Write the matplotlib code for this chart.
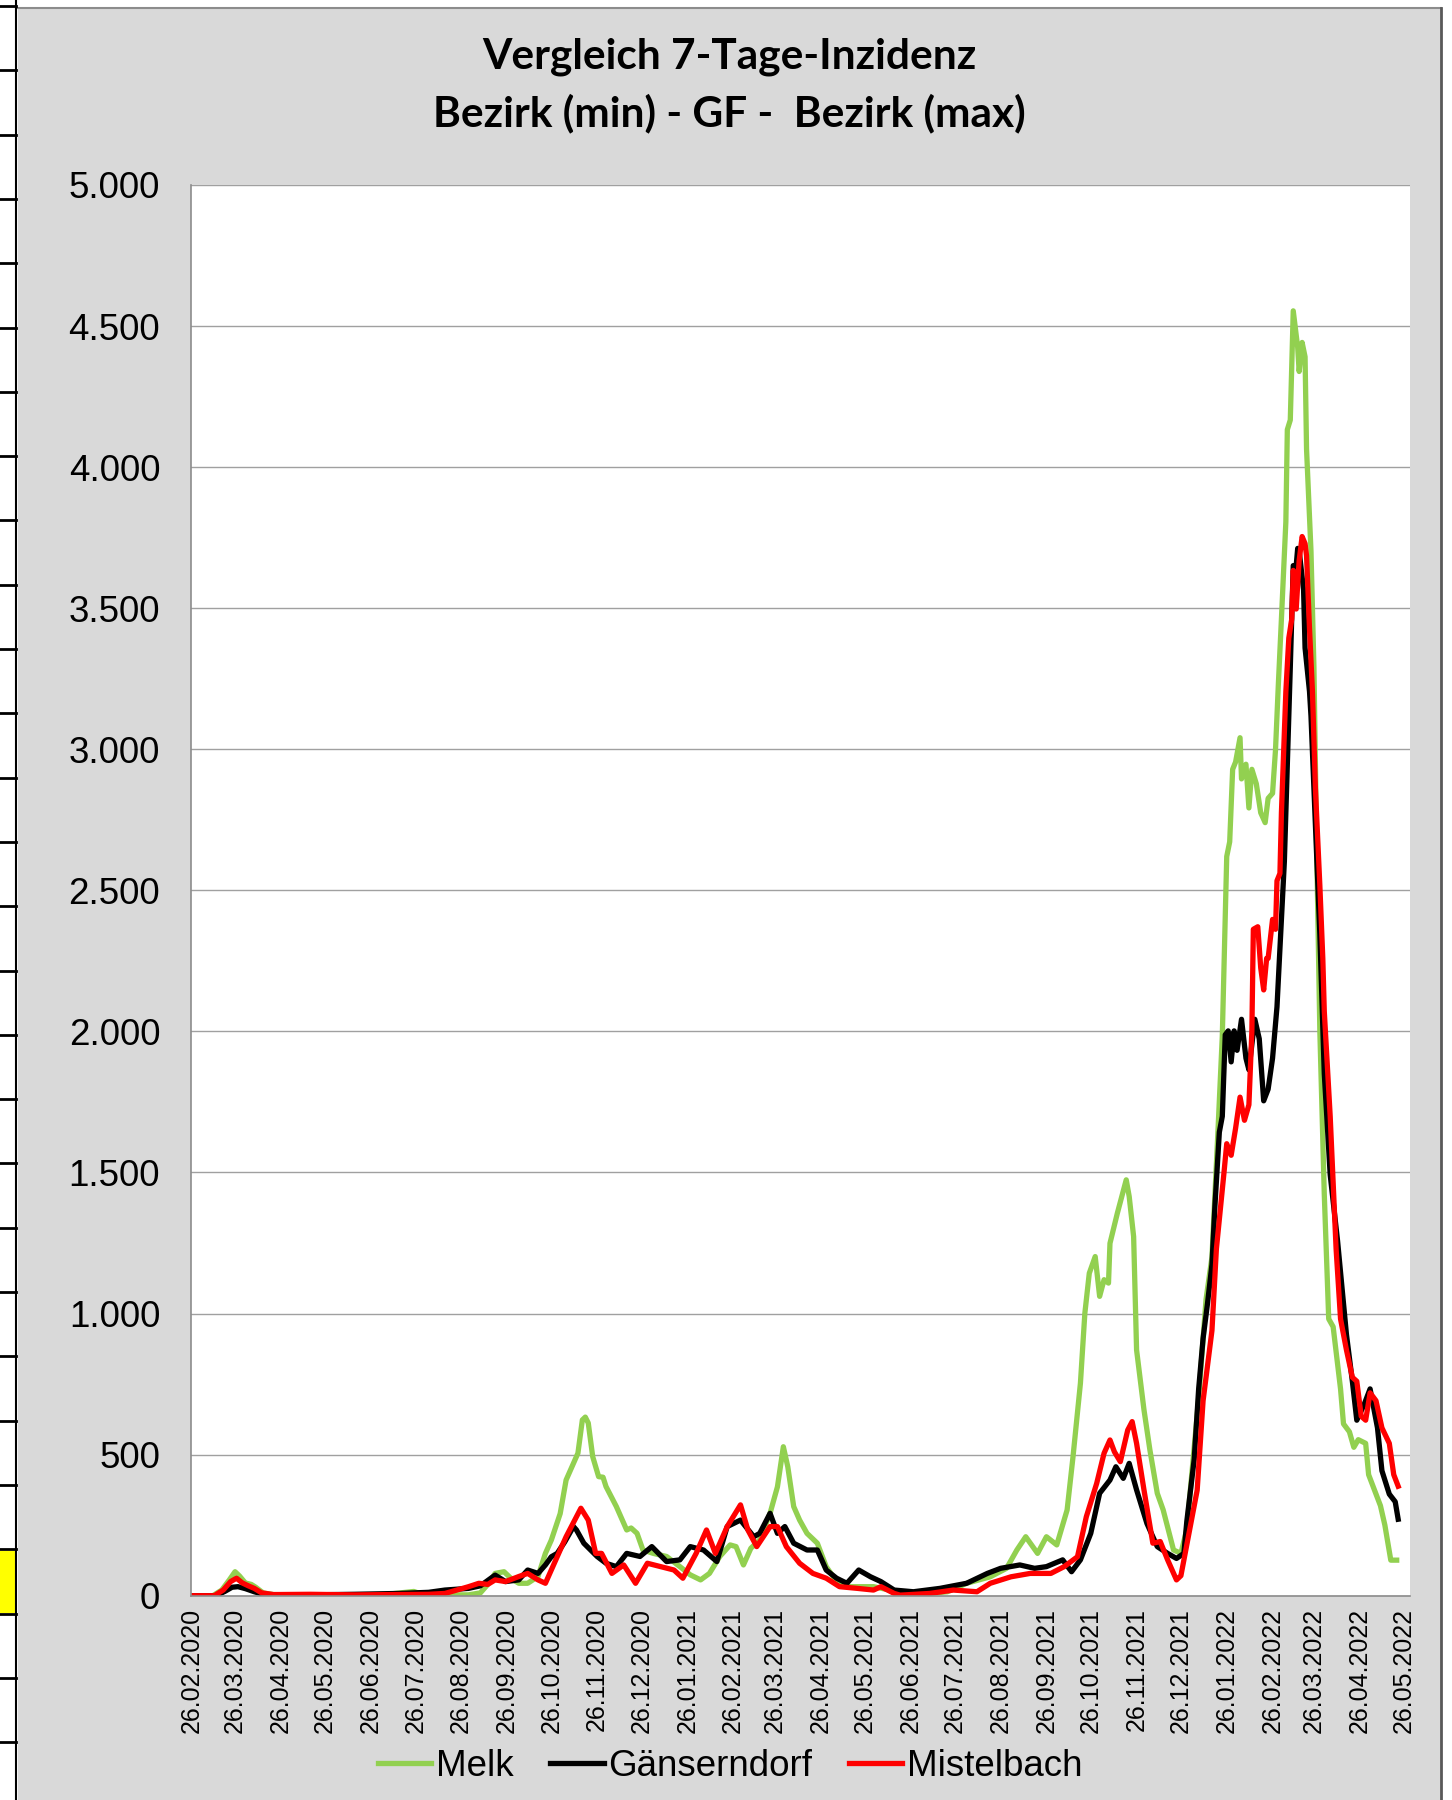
import matplotlib
matplotlib.use("Agg")
import matplotlib.pyplot as plt
from matplotlib.patches import Rectangle
from matplotlib.lines import Line2D
from matplotlib.ticker import FuncFormatter, MultipleLocator
import numpy as np

# 7-Tage-Inzidenz, (Tage seit 26.02.2020, Wert)
melk = [(0, 0), (14, 0), (20, 20), (25, 55), (29, 85), (32, 70), (36, 45), (40, 40), (43, 30), (48, 10),
        (55, 4), (70, 3), (90, 2), (110, 3), (130, 4), (150, 15), (155, 6), (170, 3), (187, 3), (195, 10),
        (200, 40), (205, 79), (211, 85), (216, 60), (221, 44), (227, 44), (234, 68), (239, 150), (243, 197),
        (247, 260), (249, 291), (253, 410), (258, 469), (261, 505), (264, 623), (266, 633), (268, 612),
        (271, 493), (275, 422), (278, 420), (280, 387), (287, 316), (294, 233), (297, 240), (301, 221),
        (305, 162), (312, 150), (321, 139), (330, 103), (337, 74), (344, 56), (350, 79), (357, 139),
        (364, 180), (368, 174), (373, 109), (378, 168), (384, 198), (391, 292), (396, 386), (400, 528),
        (403, 457), (407, 316), (411, 268), (416, 221), (423, 186), (429, 103), (436, 50), (445, 32),
        (461, 32), (472, 20), (484, 8), (499, 8), (511, 14), (524, 44), (540, 67), (551, 97), (558, 162),
        (564, 209), (572, 150), (578, 209), (585, 180), (592, 304), (596, 493), (601, 753), (604, 1001),
        (607, 1143), (611, 1202), (614, 1061), (617, 1120), (620, 1108), (621, 1249), (626, 1356),
        (629, 1415), (632, 1474), (634, 1415), (637, 1273), (639, 871), (644, 659), (648, 517), (653, 363),
        (657, 304), (664, 162), (669, 150), (673, 236), (681, 700), (686, 1050), (690, 1200), (694, 1640),
        (697, 1984), (700, 2620), (702, 2672), (704, 2929), (706, 2955), (709, 3041), (710, 2895),
        (713, 2947), (715, 2792), (717, 2929), (720, 2878), (723, 2775), (726, 2740), (728, 2826),
        (731, 2844), (733, 2998), (735, 3239), (737, 3462), (740, 3806), (741, 4133), (743, 4167),
        (745, 4554), (748, 4425), (749, 4339), (751, 4442), (753, 4391), (754, 4064), (757, 3703),
        (759, 3290), (761, 2603), (763, 2001), (766, 1423), (769, 981), (772, 953), (777, 733), (779, 609),
        (783, 581), (786, 526), (789, 553), (794, 540), (796, 429), (800, 374), (804, 319), (807, 250),
        (811, 126), (815, 126)]

gaenserndorf = [(0, 0), (16, 0), (22, 15), (27, 30), (31, 32), (36, 25), (42, 14), (48, 5), (55, 3), (80, 3),
                (110, 5), (140, 8), (160, 12), (171, 20), (187, 26), (195, 35), (205, 73), (212, 50), (221, 56),
                (227, 91), (234, 79), (239, 109), (243, 138), (247, 150), (252, 190), (258, 245), (260, 233),
                (265, 186), (274, 139), (280, 115), (287, 103), (294, 150), (303, 139), (311, 174), (321, 121),
                (330, 127), (337, 174), (346, 162), (355, 121), (362, 245), (371, 268), (380, 209), (384, 221),
                (391, 292), (396, 221), (401, 245), (407, 186), (416, 162), (423, 162), (429, 91), (436, 62),
                (443, 44), (451, 91), (459, 67), (466, 50), (475, 20), (488, 14), (506, 26), (524, 44),
                (538, 79), (547, 97), (560, 109), (570, 97), (578, 103), (589, 127), (595, 85), (601, 127),
                (608, 221), (614, 363), (621, 410), (625, 457), (630, 416), (634, 469), (639, 375), (646, 256),
                (653, 174), (660, 150), (666, 132), (671, 150), (673, 264), (678, 484), (681, 733), (684, 912),
                (687, 1036), (690, 1174), (692, 1381), (695, 1643), (697, 1699), (699, 1988), (701, 2002),
                (703, 1892), (705, 2002), (707, 1933), (710, 2043), (713, 1905), (715, 1864), (719, 2043),
                (722, 1974), (725, 1754), (728, 1795), (731, 1905), (734, 2087), (736, 2293), (739, 2603),
                (741, 2947), (743, 3290), (745, 3651), (747, 3651), (748, 3712), (749, 3703), (752, 3565),
                (753, 3359), (756, 3205), (757, 3118), (759, 2861), (761, 2603), (763, 2345), (766, 1850),
                (770, 1492), (775, 1257), (777, 1147), (781, 926), (785, 760), (788, 622), (793, 678),
                (797, 733), (802, 595), (805, 443), (810, 360), (814, 333), (816, 271)]

mistelbach = [(0, 0), (15, 0), (21, 20), (26, 50), (30, 62), (34, 45), (38, 35), (42, 26), (47, 10), (55, 4),
              (80, 5), (110, 3), (140, 4), (160, 5), (171, 8), (187, 32), (194, 44), (200, 40), (205, 56),
              (212, 50), (221, 68), (227, 79), (234, 56), (239, 44), (244, 103), (248, 150), (253, 209),
              (260, 280), (263, 310), (268, 268), (273, 150), (277, 150), (284, 79), (292, 109), (300, 44),
              (308, 115), (317, 103), (326, 91), (332, 62), (341, 150), (348, 233), (354, 150), (362, 245),
              (371, 322), (376, 233), (382, 174), (391, 245), (396, 245), (402, 174), (411, 115), (420, 79),
              (429, 62), (438, 32), (450, 26), (461, 20), (466, 32), (475, 8), (479, 2), (499, 8), (515, 20),
              (531, 14), (540, 44), (554, 67), (567, 79), (581, 79), (590, 103), (599, 138), (605, 280),
              (612, 398), (617, 505), (621, 552), (624, 510), (628, 475), (633, 587), (636, 617), (639, 540),
              (644, 375), (650, 186), (655, 192), (660, 127), (666, 56), (669, 71), (674, 208), (680, 374),
              (684, 691), (690, 940), (693, 1229), (698, 1492), (700, 1602), (703, 1561), (706, 1657),
              (709, 1767), (712, 1685), (715, 1740), (717, 2000), (718, 2362), (721, 2371), (723, 2225),
              (725, 2147), (727, 2259), (728, 2259), (731, 2397), (733, 2362), (734, 2534), (736, 2560),
              (737, 2775), (740, 3204), (742, 3394), (744, 3462), (745, 3634), (747, 3497), (749, 3669),
              (751, 3754), (753, 3729), (754, 3686), (756, 3428), (758, 3204), (760, 2861), (763, 2517),
              (765, 2259), (766, 2071), (770, 1699), (774, 1229), (777, 981), (781, 871), (785, 774),
              (788, 760), (791, 636), (794, 622), (797, 719), (801, 691), (805, 595), (810, 540), (813, 429),
              (816, 388)]

tick_labels = ["26.02.2020", "26.03.2020", "26.04.2020", "26.05.2020", "26.06.2020", "26.07.2020",
               "26.08.2020", "26.09.2020", "26.10.2020", "26.11.2020", "26.12.2020", "26.01.2021",
               "26.02.2021", "26.03.2021", "26.04.2021", "26.05.2021", "26.06.2021", "26.07.2021",
               "26.08.2021", "26.09.2021", "26.10.2021", "26.11.2021", "26.12.2021", "26.01.2022",
               "26.02.2022", "26.03.2022", "26.04.2022", "26.05.2022"]

start = np.datetime64("2020-02-26")
W, H = 1452, 1800


def px(x):
    return x / W


def py(y):
    return 1 - y / H


def to_dates(pairs):
    days = np.array([p[0] for p in pairs])
    vals = np.array([p[1] for p in pairs])
    return start + days.astype("timedelta64[D]"), vals


fig = plt.figure(figsize=(W / 100, H / 100), dpi=100, facecolor="white")

# Excel-Rahmen (grauer Diagrammbereich) und linker Tabellenrand
fig.add_artist(Rectangle((px(18), 0), px(1441) - px(18), py(8), transform=fig.transFigure,
                         facecolor="#d9d9d9", edgecolor="none", zorder=0))
fig.add_artist(Line2D([px(18), px(1441)], [py(8), py(8)], transform=fig.transFigure, color="#8c8c8c", lw=1.5))
fig.add_artist(Line2D([px(1441), px(1441)], [0, py(8)], transform=fig.transFigure, color="#595959", lw=2))
fig.add_artist(Rectangle((0, py(1613)), px(16), py(1551) - py(1613), transform=fig.transFigure,
                         facecolor="#ffff00", edgecolor="none"))
fig.add_artist(Line2D([px(16), px(16)], [0, 1], transform=fig.transFigure, color="black", lw=1.5))
for k in range(28):
    y = 6 + 64.3 * k
    fig.add_artist(Line2D([0, px(16)], [py(y), py(y)], transform=fig.transFigure, color="black", lw=2))

ax = fig.add_axes([px(190.7), py(1595.7), px(1410) - px(190.7), py(185) - py(1595.7)])
ax.set_facecolor("white")

for data, color, name in [(melk, "#92d050", "Melk"),
                          (gaenserndorf, "black", "Gänserndorf"),
                          (mistelbach, "#ff0000", "Mistelbach")]:
    x, y = to_dates(data)
    ax.plot(x, y, color=color, lw=3.8, label=name, solid_joinstyle="round")

ax.set_ylim(0, 5000)
ax.yaxis.set_major_locator(MultipleLocator(500))
ax.yaxis.set_major_formatter(FuncFormatter(lambda v, p: f"{int(v):,}".replace(",", ".")))
ax.grid(axis="y", color="#a0a0a0", lw=1.0)
ax.set_axisbelow(True)

tick_dates = [np.datetime64(f"{t[6:]}-{t[3:5]}-{t[:2]}") for t in tick_labels]
ax.set_xlim(start - np.timedelta64(1, "D"), start + np.timedelta64(824, "D"))
ax.set_xticks(tick_dates)
ax.set_xticklabels(tick_labels, rotation=90, fontsize=18, family="Liberation Sans")
for lab in ax.get_yticklabels():
    lab.set_family("Liberation Sans")
    lab.set_fontsize(26.5)
ax.tick_params(axis="x", length=0, pad=9)
ax.tick_params(axis="y", length=0, pad=22)

for s in ["top", "right"]:
    ax.spines[s].set_visible(False)
for s in ["left", "bottom"]:
    ax.spines[s].set_color("#8c8c8c")
    ax.spines[s].set_linewidth(1.2)

fig.text(px(729), py(57), "Vergleich 7-Tage-Inzidenz", ha="center", va="center",
         fontsize=30.5, fontweight="bold", family="Lato")
fig.text(px(729), py(113), "Bezirk (min) - GF -  Bezirk (max)", ha="center", va="center",
         fontsize=30.5, fontweight="bold", family="Lato")

fig.legend(loc="center", bbox_to_anchor=(px(730), py(1766)), ncol=3, frameon=False,
           prop={"family": "Liberation Sans", "size": 26.5}, handlelength=1.45,
           handletextpad=0.12, columnspacing=1.0)

fig.savefig("out.png", dpi=100, facecolor=fig.get_facecolor())
